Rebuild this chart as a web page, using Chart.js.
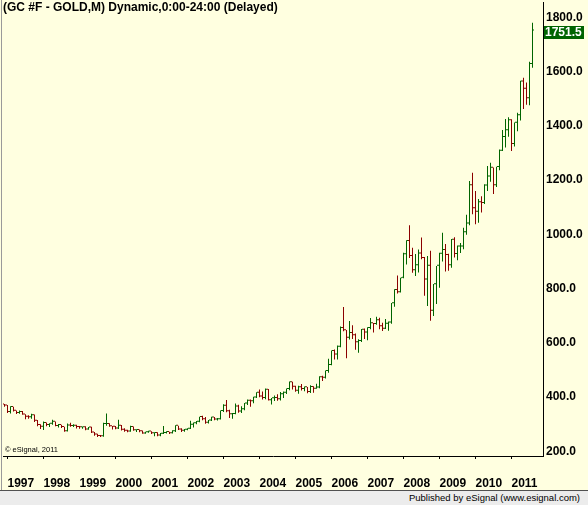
<!DOCTYPE html>
<html>
<head>
<meta charset="utf-8">
<script src="https://cdn.jsdelivr.net/npm/chart.js@4/dist/chart.umd.min.js"></script>
<style>
  html, body { margin: 0; padding: 0; }
  body { width: 588px; height: 505px; position: relative; overflow: hidden; background: #ffffe0; font-family: "Liberation Sans", Arial, sans-serif; }
  #wrap { position: absolute; left: 0; top: 0; width: 588px; height: 490px; }
  #title { position: absolute; left: 3px; top: 1px; font: bold 12px "Liberation Sans", Arial, sans-serif; line-height: 13px; color: #000; white-space: nowrap; }
  #copy { position: absolute; left: 5px; top: 445px; font-size: 7.5px; line-height: 9px; color: #000; white-space: nowrap; }
  #edge { position: absolute; left: 1px; top: 0; width: 1px; height: 490px; background: #9a9a9a; }
  #footer { position: absolute; left: 0; top: 490px; width: 588px; height: 15px; box-sizing: border-box; background: #ececec; border-top: 1px solid #505050; text-align: right; padding-right: 8px; font-size: 9.5px; line-height: 14px; color: #000; white-space: nowrap; }
</style>
</head>
<body>
<div id="wrap"><canvas id="mychart" width="588" height="490"></canvas></div>
<div id="edge"></div>
<div id="title">(GC #F - GOLD,M) Dynamic,0:00-24:00 (Delayed)</div>
<div id="copy">© eSignal, 2011</div>
<div id="footer">Published by eSignal (www.esignal.com)</div>
<script>
// monthly bars, Dec 1996 .. Aug 2011 (one row per year)
const opens = [
  372,
  369, 345, 363, 349, 341, 345, 335, 327, 325, 333, 312, 297,
  290, 304, 297, 301, 309, 293, 297, 289, 274, 295, 293, 294,
  289, 288, 288, 280, 287, 269, 262, 256, 255, 300, 300, 292,
  290, 284, 294, 279, 275, 273, 289, 277, 278, 274, 265, 270,
  273, 266, 267, 258, 264, 267, 271, 266, 274, 294, 280, 275,
  279, 283, 298, 303, 309, 326, 318, 305, 313, 324, 317, 318,
  348, 368, 347, 336, 337, 365, 346, 355, 376, 386, 384, 398,
  416, 402, 396, 427, 388, 395, 396, 392, 410, 416, 429, 454,
  438, 423, 436, 429, 436, 418, 437, 430, 435, 473, 471, 496,
  518, 570, 557, 585, 654, 646, 618, 636, 628, 602, 606, 648,
  638, 654, 672, 669, 683, 661, 652, 670, 675, 746, 795, 786,
  840, 926, 975, 920, 867, 886, 929, 913, 833, 884, 718, 816,
  884, 928, 942, 924, 886, 980, 927, 955, 955, 1008, 1040, 1181,
  1096, 1083, 1118, 1115, 1180, 1213, 1245, 1181, 1248, 1308, 1359, 1384,
  1421, 1333, 1411, 1439, 1564, 1537, 1502, 1628
];
const highs = [
  374,
  370, 366, 364, 350, 350, 348, 336, 333, 338, 335, 315, 299,
  310, 306, 303, 316, 310, 300, 298, 290, 302, 305, 299, 298,
  293, 291, 292, 289, 290, 271, 264, 260, 305, 339, 303, 293,
  293, 316, 297, 285, 279, 294, 291, 281, 280, 276, 272, 275,
  274, 270, 270, 267, 293, 274, 272, 277, 296, 294, 285, 282,
  285, 312, 306, 311, 327, 331, 326, 315, 327, 326, 322, 350,
  373, 389, 353, 341, 376, 371, 366, 378, 391, 391, 401, 417,
  428, 420, 431, 429, 396, 405, 410, 418, 420, 431, 457, 456,
  441, 441, 448, 439, 437, 443, 440, 449, 476, 478, 498, 541,
  571, 575, 590, 660, 732, 647, 680, 665, 634, 613, 651, 653,
  657, 691, 673, 696, 692, 674, 688, 678, 747, 797, 848, 840,
  932, 978, 1033, 950, 927, 944, 988, 916, 920, 939, 817, 883,
  932, 1006, 964, 928, 983, 989, 959, 968, 1024, 1072, 1197, 1227,
  1160, 1130, 1140, 1185, 1252, 1264, 1246, 1249, 1313, 1385, 1425, 1432,
  1424, 1412, 1448, 1566, 1577, 1560, 1636, 1780
];
const lows = [
  364,
  341, 339, 346, 337, 338, 334, 318, 320, 320, 308, 292, 282,
  278, 292, 289, 298, 292, 287, 286, 272, 273, 290, 289, 284,
  283, 283, 277, 279, 267, 257, 252, 252, 253, 294, 290, 280,
  281, 282, 276, 272, 270, 272, 275, 271, 270, 264, 264, 268,
  263, 255, 255, 255, 263, 265, 263, 265, 271, 278, 271, 272,
  277, 282, 287, 299, 307, 314, 301, 302, 311, 314, 313, 317,
  345, 344, 322, 320, 336, 342, 341, 351, 370, 364, 377, 396,
  399, 391, 392, 387, 372, 385, 386, 387, 396, 411, 425, 428,
  419, 412, 424, 421, 414, 415, 416, 430, 432, 459, 468, 489,
  517, 538, 538, 583, 642, 543, 612, 614, 574, 563, 603, 614,
  609, 650, 638, 666, 650, 643, 651, 644, 670, 733, 782, 785,
  838, 889, 913, 858, 846, 859, 908, 773, 736, 681, 699, 743,
  803, 900, 863, 866, 877, 914, 904, 931, 945, 998, 1033, 1074,
  1037, 1043, 1080, 1112, 1160, 1194, 1149, 1174, 1236, 1307, 1320, 1360,
  1307, 1324, 1380, 1420, 1462, 1478, 1476, 1614
];
const closes = [
  369,
  345, 363, 349, 341, 345, 335, 327, 325, 333, 312, 297, 290,
  304, 297, 301, 309, 293, 297, 289, 274, 295, 293, 294, 289,
  288, 288, 280, 287, 269, 262, 256, 255, 300, 300, 292, 290,
  284, 294, 279, 275, 273, 289, 277, 278, 274, 265, 270, 273,
  266, 267, 258, 264, 267, 271, 266, 274, 294, 280, 275, 279,
  283, 298, 303, 309, 326, 318, 305, 313, 324, 317, 318, 348,
  368, 347, 336, 337, 365, 346, 355, 376, 386, 384, 398, 416,
  402, 396, 427, 388, 395, 396, 392, 410, 416, 429, 454, 438,
  423, 436, 429, 436, 418, 437, 430, 435, 473, 471, 496, 518,
  570, 557, 585, 654, 646, 618, 636, 628, 602, 606, 648, 638,
  654, 672, 669, 683, 661, 652, 670, 675, 746, 795, 786, 838,
  926, 975, 920, 867, 886, 929, 913, 833, 884, 718, 816, 884,
  928, 942, 924, 886, 980, 927, 955, 955, 1008, 1040, 1181, 1096,
  1083, 1118, 1115, 1180, 1213, 1245, 1181, 1248, 1308, 1359, 1384, 1421,
  1333, 1411, 1439, 1564, 1537, 1502, 1628, 1751.5
];

const years = ['1996', '1997', '1998', '1999', '2000', '2001', '2002', '2003', '2004', '2005', '2006', '2007', '2008', '2009', '2010', '2011'];
const yTicks = [200, 400, 600, 800, 1000, 1200, 1400, 1600, 1800];

const upColor = '#006400';
const downColor = '#8b0000';

// category axis: Dec 1996 .. Nov 2011, three empty months on the right
const labels = [];
const monthOf = [];
for (let i = 0; i < 180; i++) {
  const m = (11 + i) % 12;
  labels.push(years[Math.floor((11 + i) / 12)] + '-' + (m + 1));
  monthOf.push(m);
}

const barColors = closes.map((c, i) => c >= opens[i] ? upColor : downColor);

const barOpts = {
  barThickness: 1,
  minBarLength: 1,
  inflateAmount: 0,
  borderWidth: 0,
  grouped: true,
  backgroundColor: barColors,
};

const lastPrice = {
  id: 'lastPrice',
  afterDraw(chart) {
    const ctx = chart.ctx;
    const v = closes[closes.length - 1];
    const y = Math.round(chart.scales.y.getPixelForValue(v));
    ctx.save();
    ctx.fillStyle = upColor;
    ctx.fillRect(544, y - 5, 40, 13);
    ctx.fillStyle = '#ffffff';
    ctx.font = 'bold 12px "Liberation Sans", Arial, sans-serif';
    ctx.textBaseline = 'middle';
    ctx.textAlign = 'left';
    ctx.fillText(v.toFixed(1), 545, y + 2);
    ctx.restore();
  }
};

const ctx = document.getElementById('mychart').getContext('2d');
const chart = new Chart(ctx, {
  type: 'bar',
  data: {
    labels: labels,
    datasets: [
      Object.assign({ label: 'Open', data: opens.map(o => [o, o]) }, barOpts),
      Object.assign({ label: 'Range', data: lows.map((l, i) => [l, highs[i]]) }, barOpts),
      Object.assign({ label: 'Close', data: closes.map(c => [c, c]) }, barOpts),
    ]
  },
  options: {
    responsive: false,
    animation: false,
    layout: { padding: { left: 3, top: 2, right: 0, bottom: 0 } },
    plugins: { legend: { display: false }, tooltip: { enabled: false } },
    scales: {
      x: {
        offset: true,
        grid: {
          offset: false,
          drawOnChartArea: false,
          drawTicks: true,
          tickLength: 3,
          color: (c) => (c.index !== undefined && monthOf[c.index] === 0) ? '#000000' : 'rgba(0,0,0,0)',
        },
        border: { display: true, color: '#000000', width: 1 },
        ticks: {
          autoSkip: false,
          maxRotation: 0,
          minRotation: 0,
          align: 'start',
          padding: 17,
          color: '#000000',
          font: { family: '"Liberation Sans", Arial, sans-serif', size: 12, weight: 'bold' },
          callback: (v, i) => monthOf[i] === 0 ? years[Math.floor((11 + i) / 12)] : '',
        },
        afterFit: (s) => { s.height = 34; s.paddingLeft = 0; s.paddingRight = 0; },
      },
      y: {
        position: 'right',
        min: 182.3,
        max: 1856.8,
        grid: { drawOnChartArea: false, drawTicks: false },
        border: { display: true, color: '#000000', width: 1 },
        ticks: {
          stepSize: 200,
          includeBounds: false,
          padding: 3,
          color: '#000000',
          font: { family: '"Liberation Sans", Arial, sans-serif', size: 12, weight: 'bold' },
          callback: (v) => yTicks.includes(v) ? v.toFixed(1) : '',
        },
        afterFit: (s) => { s.width = 45; s.paddingTop = 0; s.paddingBottom = 0; },
      }
    }
  },
  plugins: [lastPrice]
});
</script>
</body>
</html>
